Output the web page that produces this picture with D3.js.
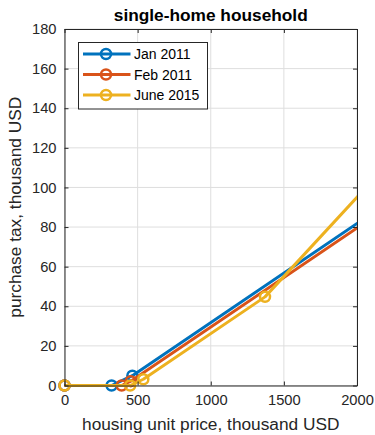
<!DOCTYPE html>
<html>
<head>
<meta charset="utf-8">
<script src="https://cdn.jsdelivr.net/npm/d3@7"></script>
<style>
  html, body { margin: 0; padding: 0; background: #fff; }
  svg { display: block; font-family: "Liberation Sans", Arial, sans-serif; }
</style>
</head>
<body>
<svg id="chart" width="375" height="435"></svg>
<script>
// Purchase tax schedule (thousand USD) against housing unit price (thousand USD)
const seriesNames = ["Jan 2011", "Feb 2011", "June 2015"];
const seriesColors = ["#0072BD", "#D95319", "#EDB120"];

const janPrice = [0, 322, 464, 3000];
const janTax   = [0, 0, 4.97, 131.8];

const febPrice = [0, 391, 453, 3000];
const febTax   = [0, 0, 2.17, 129.5];

const junPrice = [0, 449, 539, 1371, 3000];
const junTax   = [0, 0, 3.15, 44.75, 175.1];

const xTicks = [0, 500, 1000, 1500, 2000];
const yTicks = [0, 20, 40, 60, 80, 100, 120, 140, 160, 180];

const series = [
  { name: seriesNames[0], color: seriesColors[0], pts: janPrice.map((p, i) => [p, janTax[i]]) },
  { name: seriesNames[1], color: seriesColors[1], pts: febPrice.map((p, i) => [p, febTax[i]]) },
  { name: seriesNames[2], color: seriesColors[2], pts: junPrice.map((p, i) => [p, junTax[i]]) }
];

const svg = d3.select("#chart");
const m = { left: 64.5, right: 357, top: 29, bottom: 385.5 };

const x = d3.scaleLinear().domain([0, 2000]).range([m.left, m.right]);
const y = d3.scaleLinear().domain([0, 180]).range([m.bottom, m.top]);

const axisColor = "#262626";
const fontFam = "'Liberation Sans', Arial, sans-serif";

// grid
const grid = svg.append("g");
grid.selectAll("line.gx").data(xTicks).join("line")
  .attr("x1", d => x(d)).attr("x2", d => x(d))
  .attr("y1", m.top).attr("y2", m.bottom)
  .attr("stroke", "#dedede").attr("stroke-width", 1);
grid.selectAll("line.gy").data(yTicks).join("line")
  .attr("y1", d => y(d)).attr("y2", d => y(d))
  .attr("x1", m.left).attr("x2", m.right)
  .attr("stroke", "#dedede").attr("stroke-width", 1);

// lines are clipped at the right edge of the axes
svg.append("clipPath").attr("id", "lineclip")
  .append("rect").attr("x", m.left - 8).attr("y", m.top)
  .attr("width", m.right - m.left + 8).attr("height", m.bottom - m.top + 10);

const line = d3.line().x(d => x(d[0])).y(d => y(d[1]));
const dataG = svg.append("g").attr("clip-path", "url(#lineclip)");

series.forEach(s => {
  const g = dataG.append("g");
  g.append("path").datum(s.pts)
    .attr("d", line).attr("fill", "none")
    .attr("stroke", s.color).attr("stroke-width", 3)
    .attr("stroke-linejoin", "round");
  g.selectAll("circle").data(s.pts.filter(d => d[0] <= 2000)).join("circle")
    .attr("cx", d => x(d[0])).attr("cy", d => y(d[1]))
    .attr("r", 5).attr("fill", "none")
    .attr("stroke", s.color).attr("stroke-width", 2.5);
});

// axes (box with inward ticks)
const fmt = d3.format("d");
const xAxisB = d3.axisBottom(x).tickValues(xTicks).tickFormat(fmt).tickSizeInner(-4).tickSizeOuter(0).tickPadding(9);
const xAxisT = d3.axisTop(x).tickValues(xTicks).tickSizeInner(-4).tickSizeOuter(0).tickFormat("");
const yAxisL = d3.axisLeft(y).tickValues(yTicks).tickFormat(fmt).tickSizeInner(-4).tickSizeOuter(0).tickPadding(8);
const yAxisR = d3.axisRight(y).tickValues(yTicks).tickSizeInner(-4).tickSizeOuter(0).tickFormat("");

function styleAxis(g) {
  g.attr("font-size", null).attr("font-family", null);
  g.selectAll("path").attr("stroke", axisColor).attr("stroke-width", 1);
  g.selectAll("line").attr("stroke", axisColor);
  g.selectAll("text").attr("fill", axisColor).style("font-size", "14.7px")
    .style("font-family", fontFam);
}
svg.append("g").attr("transform", `translate(0,${m.bottom})`).call(xAxisB).call(styleAxis);
svg.append("g").attr("transform", `translate(0,${m.top})`).call(xAxisT).call(styleAxis);
svg.append("g").attr("transform", `translate(${m.left},0)`).call(yAxisL).call(styleAxis);
svg.append("g").attr("transform", `translate(${m.right},0)`).call(yAxisR).call(styleAxis);

// title and axis labels
svg.append("text").attr("x", (m.left + m.right) / 2).attr("y", 21)
  .attr("text-anchor", "middle").style("font-size", "17.3px").style("font-weight", "bold")
  .style("font-family", fontFam).attr("fill", "#000").text("single-home household");
svg.append("text").attr("x", (m.left + m.right) / 2).attr("y", 430)
  .attr("text-anchor", "middle").style("font-size", "17.3px").style("font-family", fontFam)
  .attr("fill", axisColor).text("housing unit price, thousand USD");
svg.append("text").attr("transform", `translate(21,${(m.top + m.bottom) / 2}) rotate(-90)`)
  .attr("text-anchor", "middle").style("font-size", "17.3px").style("font-family", fontFam)
  .attr("fill", axisColor).text("purchase tax, thousand USD");

// legend
const lg = svg.append("g");
lg.append("rect").attr("x", 78.5).attr("y", 42.5).attr("width", 129).attr("height", 66.5)
  .attr("fill", "#fff").attr("stroke", axisColor).attr("stroke-width", 1);
series.forEach((s, i) => {
  const yy = 54 + i * 20.5;
  lg.append("line").attr("x1", 83).attr("x2", 130.5).attr("y1", yy).attr("y2", yy)
    .attr("stroke", s.color).attr("stroke-width", 3);
  lg.append("circle").attr("cx", 106).attr("cy", yy).attr("r", 5)
    .attr("fill", "none").attr("stroke", s.color).attr("stroke-width", 2.5);
  lg.append("text").attr("x", 134).attr("y", yy + 5).style("font-size", "14px")
    .style("font-family", fontFam).attr("fill", "#000").text(s.name);
});
</script>
</body>
</html>
